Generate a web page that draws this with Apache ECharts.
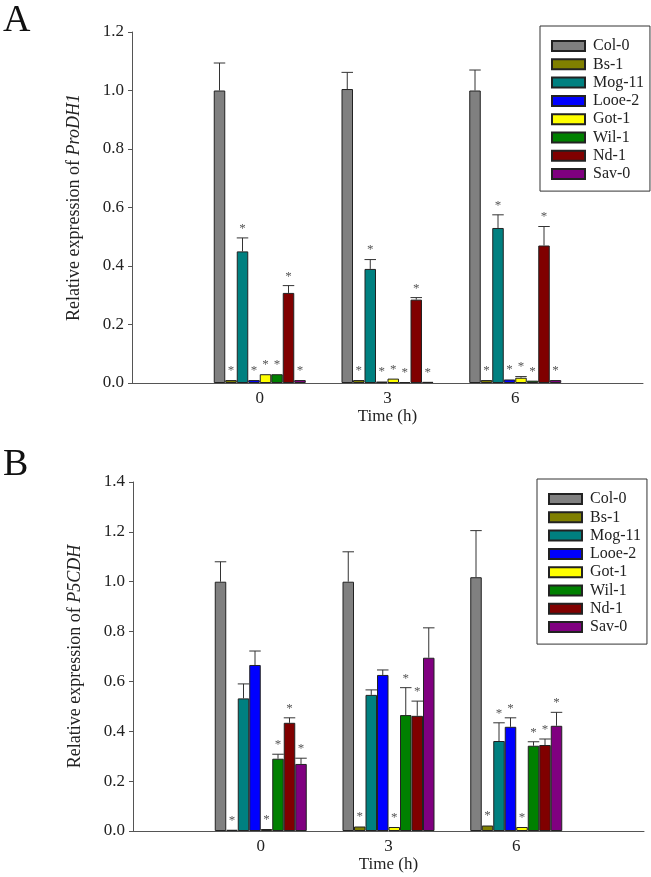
<!DOCTYPE html>
<html>
<head>
<meta charset="utf-8">
<script src="https://cdn.jsdelivr.net/npm/echarts@6/dist/echarts.min.js"></script>
<style>html,body{margin:0;padding:0;background:#fff}#c{width:651px;height:877px}</style>
</head>
<body>
<div id="c"></div>
<script>
// ---- data ----
const positions = ['-3', '0', '3', '6', '9'];        // category slots on x axis
const timeLabels = ['', '0', '3', '6', ''];           // shown tick labels
const genotypes = ['Col-0', 'Bs-1', 'Mog-11', 'Looe-2', 'Got-1', 'Wil-1', 'Nd-1', 'Sav-0'];
const colors = ['#808080', '#808000', '#008080', '#0000ff', '#ffff00', '#008000', '#800000', '#800080'];

// Panel A: ProDH1 (means at 0, 3, 6 h)
const A_col0 = [1.0, 1.005, 1.0];    const A_col0_sd = [0.094, 0.057, 0.07];
const A_bs1 = [0.01, 0.01, 0.01];    const A_bs1_sd = [0, 0, 0];
const A_mog11 = [0.45, 0.39, 0.53];  const A_mog11_sd = [0.046, 0.032, 0.045];
const A_looe2 = [0.01, 0.005, 0.012];const A_looe2_sd = [0, 0, 0];
const A_got1 = [0.03, 0.015, 0.018]; const A_got1_sd = [0, 0, 0.004];
const A_wil1 = [0.03, 0.003, 0.008]; const A_wil1_sd = [0, 0, 0];
const A_nd1 = [0.308, 0.285, 0.47];  const A_nd1_sd = [0.025, 0.007, 0.065];
const A_sav0 = [0.01, 0.004, 0.01];  const A_sav0_sd = [0, 0, 0];
const A_stars = [[0,0,0],[1,1,1],[1,1,1],[1,1,1],[1,1,1],[1,1,1],[1,1,1],[1,1,1]];

// Panel B: P5CDH
const B_col0 = [1.0, 1.0, 1.018];    const B_col0_sd = [0.08, 0.12, 0.187];
const B_bs1 = [0.005, 0.018, 0.022]; const B_bs1_sd = [0, 0, 0];
const B_mog11 = [0.532, 0.546, 0.361]; const B_mog11_sd = [0.058, 0.02, 0.073];
const B_looe2 = [0.666, 0.626, 0.418]; const B_looe2_sd = [0.056, 0.02, 0.036];
const B_got1 = [0.008, 0.016, 0.016]; const B_got1_sd = [0, 0, 0];
const B_wil1 = [0.29, 0.465, 0.342];  const B_wil1_sd = [0.018, 0.11, 0.016];
const B_nd1 = [0.434, 0.462, 0.345];  const B_nd1_sd = [0.02, 0.059, 0.024];
const B_sav0 = [0.269, 0.695, 0.422]; const B_sav0_sd = [0.023, 0.12, 0.054];
const B_stars = [[0,0,0],[1,1,1],[0,0,1],[0,0,1],[1,1,1],[1,1,1],[1,1,1],[1,0,1]];

const A_means = [A_col0, A_bs1, A_mog11, A_looe2, A_got1, A_wil1, A_nd1, A_sav0];
const A_sds = [A_col0_sd, A_bs1_sd, A_mog11_sd, A_looe2_sd, A_got1_sd, A_wil1_sd, A_nd1_sd, A_sav0_sd];
const B_means = [B_col0, B_bs1, B_mog11, B_looe2, B_got1, B_wil1, B_nd1, B_sav0];
const B_sds = [B_col0_sd, B_bs1_sd, B_mog11_sd, B_looe2_sd, B_got1_sd, B_wil1_sd, B_nd1_sd, B_sav0_sd];

// ---- style ----
const FONT = "'Liberation Serif', 'Times New Roman', serif";
const BAR_W = 11.5;
const AXIS_COLOR = '#555';
const TXT = '#222';

const chart = echarts.init(document.getElementById('c'), null, {renderer: 'canvas'});

function errItems(means, sds, stars) {
  const out = [];
  means.forEach((arr, k) => arr.forEach((m, t) => {
    out.push([t + 1, m, m + sds[k][t], k, stars[k][t]]);
  }));
  return out;
}

function renderErr(params, api) {
  const x = api.value(0), v = api.value(1), top = api.value(2), k = api.value(3), star = api.value(4);
  const base = api.coord([x, v]);
  const tp = api.coord([x, top]);
  const cx = base[0] + (k - 3.5) * BAR_W;
  const children = [];
  if (top > v) {
    children.push({type: 'line', shape: {x1: cx, y1: base[1], x2: cx, y2: tp[1]}, style: {stroke: '#333', lineWidth: 1}});
    children.push({type: 'line', shape: {x1: cx - BAR_W / 2, y1: tp[1], x2: cx + BAR_W / 2, y2: tp[1]}, style: {stroke: '#333', lineWidth: 1}});
  }
  if (star) {
    children.push({type: 'text', style: {text: '*', x: cx, y: tp[1] - 3, align: 'center', verticalAlign: 'bottom', fontSize: 13, fontFamily: FONT, fill: '#555'}});
  }
  return {type: 'group', children};
}

function barSeries(means, axisIdx) {
  return genotypes.map((g, k) => ({
    type: 'bar', name: g, xAxisIndex: axisIdx, yAxisIndex: axisIdx,
    data: [null].concat(means[k]).concat([null]),
    barWidth: BAR_W, barGap: '0%',
    itemStyle: {color: colors[k], borderColor: '#222', borderWidth: 1},
    emphasis: {disabled: true}
  }));
}

function xAxisCfg(gridIndex) {
  return {
    type: 'category', gridIndex, data: positions, boundaryGap: false,
    axisLine: {lineStyle: {color: AXIS_COLOR, width: 1}},
    axisTick: {show: false},
    axisLabel: {interval: 0, formatter: (v, i) => timeLabels[i], fontSize: 17, fontFamily: FONT, color: TXT, margin: 7},
    name: 'Time (h)', nameLocation: 'middle', nameGap: 25,
    nameTextStyle: {fontSize: 17, fontFamily: FONT, color: TXT}
  };
}

function yAxisCfg(gridIndex, max, gene) {
  return {
    type: 'value', gridIndex, min: 0, max, interval: 0.2,
    splitLine: {show: false},
    axisLine: {show: true, lineStyle: {color: AXIS_COLOR, width: 1}},
    axisTick: {show: true, length: 4, lineStyle: {color: AXIS_COLOR}},
    axisLabel: {formatter: v => v.toFixed(1), fontSize: 17, fontFamily: FONT, color: TXT, margin: 8},
    name: 'Relative expression of {i|' + gene + '}', nameLocation: 'middle', nameGap: 49,
    nameTextStyle: {fontSize: 18, fontFamily: FONT, color: TXT,
      rich: {i: {fontStyle: 'italic', fontSize: 18, fontFamily: FONT, color: TXT}}}
  };
}

function legendCfg(left, top) {
  return {
    data: genotypes, orient: 'vertical', left, top, icon: 'rect',
    itemWidth: 33, itemHeight: 10, itemGap: 2.3,
    padding: [12, 6, 9, 11], borderColor: '#333', borderWidth: 1,
    selectedMode: false,
    textStyle: {fontSize: 16, lineHeight: 15, fontFamily: FONT, color: TXT, padding: [0, 0, 0, 3]}
  };
}

const option = {
  animation: false,
  backgroundColor: '#fff',
  grid: [
    {left: 132, right: 8, top: 32, height: 351},
    {left: 133, right: 7, top: 482, height: 349}
  ],
  xAxis: [xAxisCfg(0), xAxisCfg(1)],
  yAxis: [yAxisCfg(0, 1.2, 'ProDH1'), yAxisCfg(1, 1.4, 'P5CDH')],
  legend: [legendCfg(540, 26), legendCfg(537, 479)],
  graphic: [
    {type: 'text', left: 3, top: 2, style: {text: 'A', fontSize: 38, fontFamily: FONT, fill: '#111'}},
    {type: 'text', left: 3, top: 446, style: {text: 'B', fontSize: 38, fontFamily: FONT, fill: '#111'}}
  ],
  series: [].concat(
    barSeries(A_means, 0),
    barSeries(B_means, 1),
    [
      {type: 'custom', xAxisIndex: 0, yAxisIndex: 0, renderItem: renderErr, data: errItems(A_means, A_sds, A_stars), z: 5, silent: true},
      {type: 'custom', xAxisIndex: 1, yAxisIndex: 1, renderItem: renderErr, data: errItems(B_means, B_sds, B_stars), z: 5, silent: true}
    ]
  )
};
chart.setOption(option);
</script>
</body>
</html>
